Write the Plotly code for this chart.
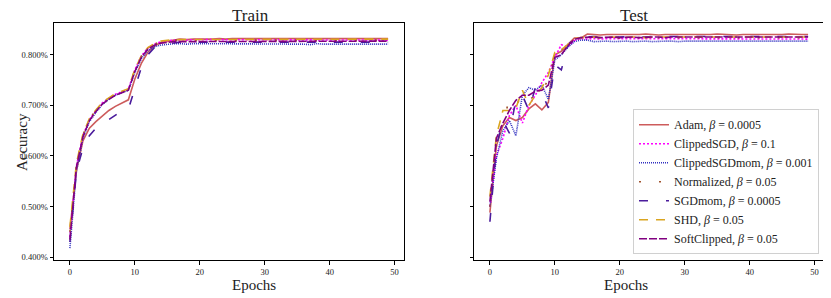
import plotly.graph_objects as go

## DATA ##
epochs = list(range(50))

names = ["Adam", "ClippedSGD", "ClippedSGDmom", "Normalized", "SGDmom", "SHD", "SoftClipped"]
betas = ["0.0005", "0.1", "0.001", "0.05", "0.0005", "0.05", "0.05"]

train_adam = [0.455, 0.570, 0.630, 0.655, 0.668, 0.680, 0.690, 0.698, 0.704, 0.711, 0.752, 0.783, 0.805, 0.817, 0.824, 0.827, 0.829, 0.831, 0.830, 0.831,
              0.831, 0.830, 0.831, 0.832, 0.831, 0.832, 0.832, 0.831, 0.832, 0.831, 0.831, 0.832, 0.831, 0.831, 0.832, 0.831, 0.831, 0.832, 0.831, 0.831,
              0.832, 0.832, 0.831, 0.831, 0.831, 0.832, 0.831, 0.831, 0.832, 0.832]
train_clippedsgd = [0.440, 0.580, 0.640, 0.672, 0.690, 0.705, 0.714, 0.722, 0.727, 0.732, 0.770, 0.798, 0.813, 0.821, 0.826, 0.828, 0.829, 0.830, 0.829, 0.830,
                    0.830, 0.829, 0.830, 0.830, 0.829, 0.830, 0.830, 0.829, 0.830, 0.829, 0.829, 0.830, 0.829, 0.830, 0.829, 0.829, 0.830, 0.829, 0.830, 0.829,
                    0.829, 0.830, 0.829, 0.829, 0.830, 0.829, 0.829, 0.830, 0.829, 0.829]
train_clippedsgdmom = [0.418, 0.570, 0.635, 0.668, 0.686, 0.702, 0.712, 0.720, 0.725, 0.730, 0.765, 0.792, 0.808, 0.816, 0.819, 0.821, 0.822, 0.822, 0.821, 0.822,
                       0.822, 0.821, 0.821, 0.822, 0.821, 0.822, 0.822, 0.821, 0.822, 0.821, 0.821, 0.822, 0.822, 0.821, 0.821, 0.822, 0.821, 0.820, 0.822, 0.821,
                       0.821, 0.822, 0.821, 0.821, 0.822, 0.821, 0.821, 0.822, 0.821, 0.821]
train_normalized = [0.450, 0.582, 0.641, 0.673, 0.690, 0.705, 0.714, 0.722, 0.727, 0.732, 0.770, 0.797, 0.813, 0.821, 0.826, 0.828, 0.829, 0.829, 0.829, 0.830,
                    0.829, 0.829, 0.830, 0.829, 0.829, 0.830, 0.829, 0.829, 0.830, 0.829, 0.829, 0.830, 0.829, 0.829, 0.830, 0.829, 0.829, 0.829, 0.830, 0.829,
                    0.829, 0.830, 0.829, 0.829, 0.830, 0.829, 0.829, 0.830, 0.829, 0.829]
train_sgdmom = [0.430, 0.570, 0.615, 0.640, 0.655, 0.665, 0.672, 0.680, 0.689, 0.692, 0.735, 0.775, 0.800, 0.814, 0.820, 0.822, 0.824, 0.825, 0.825, 0.825,
                0.826, 0.825, 0.825, 0.826, 0.825, 0.825, 0.826, 0.825, 0.825, 0.826, 0.825, 0.825, 0.826, 0.825, 0.825, 0.826, 0.825, 0.825, 0.826, 0.825,
                0.825, 0.826, 0.825, 0.825, 0.826, 0.825, 0.825, 0.826, 0.825, 0.825]
train_shd = [0.460, 0.585, 0.643, 0.674, 0.691, 0.706, 0.715, 0.723, 0.728, 0.733, 0.771, 0.798, 0.814, 0.822, 0.827, 0.829, 0.830, 0.830, 0.830, 0.831,
             0.830, 0.830, 0.831, 0.830, 0.830, 0.831, 0.830, 0.830, 0.831, 0.830, 0.830, 0.831, 0.830, 0.830, 0.831, 0.830, 0.830, 0.831, 0.830, 0.830,
             0.831, 0.830, 0.830, 0.831, 0.830, 0.830, 0.831, 0.830, 0.830, 0.831]
train_softclipped = [0.435, 0.578, 0.638, 0.670, 0.688, 0.703, 0.712, 0.720, 0.725, 0.730, 0.767, 0.795, 0.811, 0.819, 0.823, 0.825, 0.826, 0.826, 0.826, 0.827,
                     0.826, 0.826, 0.827, 0.826, 0.826, 0.827, 0.826, 0.826, 0.827, 0.826, 0.826, 0.827, 0.826, 0.826, 0.827, 0.826, 0.826, 0.827, 0.826, 0.826,
                     0.827, 0.826, 0.826, 0.827, 0.826, 0.826, 0.827, 0.826, 0.826, 0.827]

test_adam = [0.488, 0.620, 0.660, 0.676, 0.670, 0.676, 0.693, 0.703, 0.691, 0.706, 0.800, 0.807, 0.820, 0.833, 0.833, 0.841, 0.840, 0.839, 0.840, 0.840,
             0.839, 0.840, 0.840, 0.840, 0.841, 0.840, 0.839, 0.840, 0.840, 0.840, 0.839, 0.840, 0.840, 0.839, 0.840, 0.841, 0.840, 0.840, 0.839, 0.840,
             0.840, 0.840, 0.840, 0.839, 0.840, 0.840, 0.841, 0.840, 0.840, 0.840]
test_clippedsgd = [0.500, 0.600, 0.635, 0.680, 0.700, 0.665, 0.700, 0.720, 0.745, 0.765, 0.795, 0.820, 0.815, 0.828, 0.832, 0.831, 0.832, 0.831, 0.832, 0.832,
                   0.831, 0.832, 0.831, 0.831, 0.832, 0.831, 0.832, 0.831, 0.831, 0.832, 0.831, 0.832, 0.831, 0.831, 0.832, 0.831, 0.831, 0.832, 0.831, 0.832,
                   0.831, 0.831, 0.832, 0.831, 0.832, 0.831, 0.831, 0.832, 0.831, 0.831]
test_clippedsgdmom = [0.500, 0.595, 0.650, 0.670, 0.640, 0.720, 0.735, 0.730, 0.740, 0.712, 0.790, 0.800, 0.815, 0.826, 0.829, 0.829, 0.826, 0.827, 0.827, 0.826,
                      0.827, 0.827, 0.826, 0.827, 0.827, 0.826, 0.827, 0.827, 0.827, 0.826, 0.827, 0.827, 0.826, 0.827, 0.826, 0.827, 0.827, 0.826, 0.827, 0.827,
                      0.826, 0.827, 0.827, 0.827, 0.826, 0.827, 0.827, 0.826, 0.827, 0.827]
test_normalized = [0.500, 0.620, 0.670, 0.710, 0.700, 0.720, 0.710, 0.720, 0.730, 0.750, 0.800, 0.810, 0.820, 0.830, 0.833, 0.834, 0.834, 0.833, 0.834, 0.834,
                   0.833, 0.834, 0.834, 0.834, 0.833, 0.834, 0.834, 0.833, 0.834, 0.834, 0.834, 0.833, 0.834, 0.834, 0.833, 0.834, 0.834, 0.834, 0.833, 0.834,
                   0.834, 0.833, 0.834, 0.834, 0.834, 0.833, 0.834, 0.834, 0.833, 0.834]
test_sgdmom = [0.470, 0.620, 0.670, 0.645, 0.710, 0.720, 0.690, 0.735, 0.725, 0.695, 0.780, 0.770, 0.820, 0.830, 0.835, 0.836, 0.836, 0.835, 0.836, 0.836,
               0.835, 0.836, 0.836, 0.836, 0.835, 0.836, 0.836, 0.835, 0.836, 0.836, 0.836, 0.835, 0.836, 0.836, 0.835, 0.836, 0.836, 0.836, 0.835, 0.836,
               0.836, 0.835, 0.836, 0.836, 0.836, 0.835, 0.836, 0.836, 0.835, 0.836]
test_shd = [0.520, 0.640, 0.690, 0.690, 0.695, 0.730, 0.700, 0.720, 0.735, 0.760, 0.805, 0.810, 0.820, 0.832, 0.834, 0.835, 0.835, 0.834, 0.835, 0.835,
            0.834, 0.835, 0.835, 0.835, 0.834, 0.835, 0.835, 0.834, 0.835, 0.835, 0.835, 0.834, 0.835, 0.835, 0.834, 0.835, 0.835, 0.835, 0.834, 0.835,
            0.835, 0.834, 0.835, 0.835, 0.835, 0.834, 0.835, 0.835, 0.834, 0.835]
test_softclipped = [0.510, 0.635, 0.665, 0.690, 0.710, 0.720, 0.720, 0.728, 0.730, 0.740, 0.795, 0.800, 0.818, 0.830, 0.834, 0.835, 0.835, 0.834, 0.835, 0.835,
                    0.834, 0.835, 0.835, 0.834, 0.835, 0.835, 0.835, 0.834, 0.835, 0.835, 0.834, 0.835, 0.835, 0.835, 0.834, 0.835, 0.835, 0.834, 0.835, 0.835,
                    0.835, 0.834, 0.835, 0.835, 0.834, 0.835, 0.835, 0.835, 0.834, 0.835]

train_data = [train_adam, train_clippedsgd, train_clippedsgdmom, train_normalized, train_sgdmom, train_shd, train_softclipped]
test_data = [test_adam, test_clippedsgd, test_clippedsgdmom, test_normalized, test_sgdmom, test_shd, test_softclipped]

y_ticks = [0.4, 0.5, 0.6, 0.7, 0.8]
x_ticks = [0, 10, 20, 30, 40, 50]

## STYLE ##
colors = ["#cd5c5c", "#ff00ff", "#3030c0", "#a0522d", "#4b1c9c", "#daa520", "#800080"]
dashes = ["solid", "2px,2px", "1px,1px", "2px,18px", "9px,18px", "9px,8px", "8px,2px"]
SERIF = "Liberation Serif"

# the page puts an 8px margin round the plot div
W, H = 823, 290

fig = go.Figure()

for i, name in enumerate(names):
    line = dict(color=colors[i], dash=dashes[i], width=1.6)
    fig.add_trace(go.Scatter(x=epochs, y=train_data[i], mode="lines", line=line,
                             xaxis="x", yaxis="y", showlegend=False, legendgroup=name))
    fig.add_trace(go.Scatter(x=epochs, y=test_data[i], mode="lines", line=line,
                             xaxis="x2", yaxis="y2", legendgroup=name,
                             name=f"{name}, <i>β</i> = {betas[i]}"))

def axis_style(**kw):
    d = dict(showline=True, linewidth=1, linecolor="black", mirror=True,
             ticks="outside", ticklen=3.5, tickwidth=0.8, tickcolor="black",
             showgrid=False, zeroline=False,
             tickfont=dict(family=SERIF, size=8.5, color="#222"))
    d.update(kw)
    return d

ydom = [1 - 254/H, 1 - 15/H]
fig.update_layout(
    width=W, height=H,
    margin=dict(l=0, r=0, t=0, b=0),
    plot_bgcolor="white", paper_bgcolor="white",
    xaxis=axis_style(domain=[46/W, 396/W], range=[-2.45, 51.45], tickvals=x_ticks, anchor="y"),
    yaxis=axis_style(domain=ydom, range=[0.394, 0.863], tickvals=y_ticks,
                     ticktext=[f"{v:.3f}%" for v in y_ticks], anchor="x"),
    xaxis2=axis_style(domain=[466/W, 816/W], range=[-2.45, 51.45], tickvals=x_ticks, anchor="y2"),
    yaxis2=axis_style(domain=ydom, range=[0.394, 0.863], tickvals=y_ticks,
                      showticklabels=False, anchor="x2"),
    legend=dict(x=811/W, y=1 - 248/H, xanchor="right", yanchor="bottom",
                bgcolor="rgba(255,255,255,0.85)", bordercolor="#d0d0d0", borderwidth=1,
                font=dict(family=SERIF, size=12, color="#222"),
                itemwidth=30, tracegroupgap=0),
)

ann_font = dict(family=SERIF, color="#222")
for txt, x in [("Train", 222/W), ("Test", 642/W)]:
    fig.add_annotation(text=txt, x=x, y=1 - 7.5/H, xref="paper", yref="paper", yanchor="middle",
                       showarrow=False, font=dict(size=17, **ann_font))
    fig.add_annotation(text="Epochs", x=x, y=1 - 279/H, xref="paper", yref="paper", yanchor="middle",
                       showarrow=False, font=dict(size=15, **ann_font))
fig.add_annotation(text="Accuracy", x=4/W, y=1 - 135/H, xref="paper", yref="paper",
                   showarrow=False, textangle=-90, font=dict(size=15, **ann_font))

fig.write_html("out.html")
